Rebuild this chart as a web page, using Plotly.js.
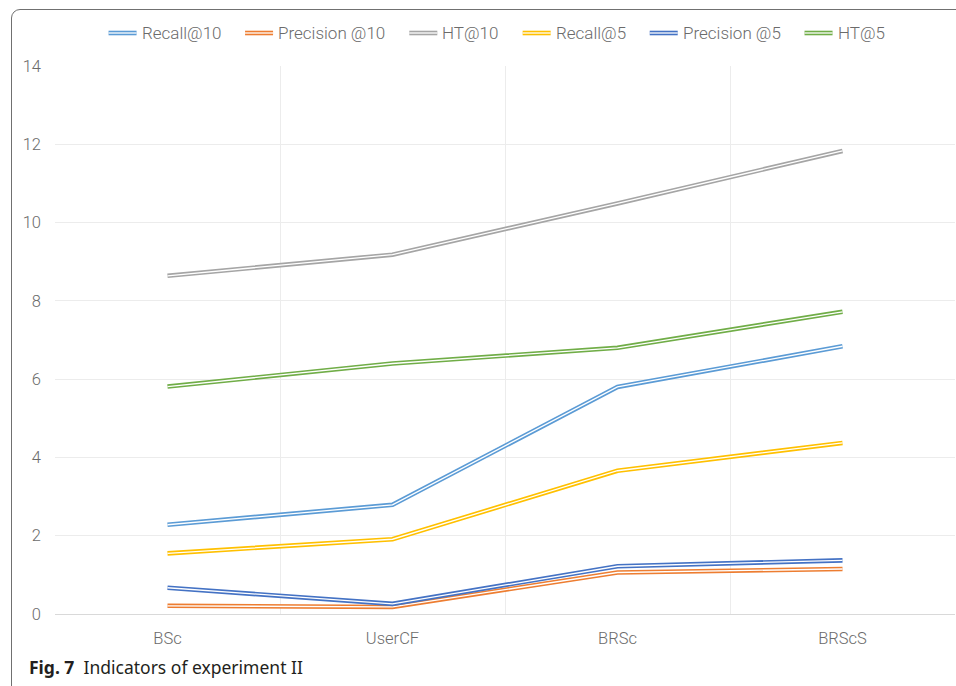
<!DOCTYPE html>
<html>
<head>
<meta charset="utf-8">
<script src="https://cdn.plot.ly/plotly-3.0.1.min.js"></script>
<style>
  html, body { margin: 0; padding: 0; background: #ffffff; overflow: hidden; }
  #wrap { position: relative; width: 956px; height: 686px; }
  #chart { position: absolute; left: 0; top: 0; width: 956px; height: 686px; }
  /* rounded figure frame, open towards the right and bottom */
  #frame {
    position: absolute; left: 11px; top: 9px; width: 980px; height: 720px;
    border: 1.5px solid #707070; border-radius: 9px; pointer-events: none;
  }
</style>
</head>
<body>
<div id="wrap">
  <div id="chart"></div>
  <div id="frame"></div>
</div>
<script>
// Methods compared on the x axis
const methods = ["BSc", "UserCF", "BRSc", "BRScS"];

// Indicator values per method
const recall10    = [2.28, 2.79, 5.80, 6.84];
const precision10 = [0.21, 0.18, 1.06, 1.15];
const ht10        = [8.64, 9.18, 10.49, 11.83];
const recall5     = [1.55, 1.91, 3.66, 4.37];
const precision5  = [0.67, 0.26, 1.22, 1.37];
const ht5         = [5.81, 6.40, 6.80, 7.72];

const yTicks = [0, 2, 4, 6, 8, 10, 12, 14];

const series = [
  { name: "Recall@10",     values: recall10,    color: "#5B9BD5" },
  { name: "Precision @10", values: precision10, color: "#ED7D31" },
  { name: "HT@10",         values: ht10,        color: "#A5A5A5" },
  { name: "Recall@5",      values: recall5,     color: "#FFC000" },
  { name: "Precision @5",  values: precision5,  color: "#4472C4" },
  { name: "HT@5",          values: ht5,         color: "#70AD47" }
];

// Plot-area geometry in pixels (used to place the legend in paper units)
const W = 956, H = 686;
const M = { l: 55, r: 1, t: 66, b: 72 };
const plotW = W - M.l - M.r, plotH = H - M.t - M.b;
const pxToPaperX = px => (px - M.l) / plotW;
const pxToPaperY = py => (H - M.b - py) / plotH;

const FONT_FAMILY = "Roboto, 'Liberation Sans', sans-serif";
const FONT_WEIGHT = 300;
const tickFont = { family: FONT_FAMILY, size: 16.5, weight: FONT_WEIGHT, color: "#6b6b6b" };
const legendFont = { family: FONT_FAMILY, size: 17, weight: FONT_WEIGHT, color: "#6b6b6b" };

const DOUBLE_OUTER = 4.6, DOUBLE_INNER = 1.3;

// Each series is drawn as a double line: a wide coloured stroke with a thin white core
const traces = [];
series.forEach(s => {
  traces.push({
    type: "scatter", mode: "lines", name: s.name,
    x: methods, y: s.values, showlegend: false,
    line: { color: s.color, width: DOUBLE_OUTER },
    hoverinfo: "x+y+name"
  });
  traces.push({
    type: "scatter", mode: "lines", name: s.name,
    x: methods, y: s.values, showlegend: false,
    line: { color: "#ffffff", width: DOUBLE_INNER },
    hoverinfo: "skip"
  });
});

// Legend row along the top, built so the keys show the same double stroke
const canvas = document.createElement("canvas");
const ctx = canvas.getContext("2d");
ctx.font = FONT_WEIGHT + " " + legendFont.size + "px Roboto";
const KEY_LEN = 28, KEY_GAP = 4, ITEM_GAP = 25, LEGEND_CENTER = 496, LEGEND_Y = 33;
const widths = series.map(s => ctx.measureText(s.name).width);
const total = widths.reduce((a, w) => a + KEY_LEN + KEY_GAP + w, 0) + ITEM_GAP * (series.length - 1);
let cursor = LEGEND_CENTER - total / 2;
const shapes = [], annotations = [];
series.forEach((s, i) => {
  const x0 = pxToPaperX(cursor), x1 = pxToPaperX(cursor + KEY_LEN), y = pxToPaperY(LEGEND_Y);
  [[s.color, DOUBLE_OUTER], ["#ffffff", DOUBLE_INNER]].forEach(([c, w]) => {
    shapes.push({ type: "line", xref: "paper", yref: "paper", x0, x1, y0: y, y1: y,
                  line: { color: c, width: w } });
  });
  annotations.push({
    xref: "paper", yref: "paper", x: pxToPaperX(cursor + KEY_LEN + KEY_GAP - 1), y,
    xanchor: "left", yanchor: "middle", showarrow: false, text: s.name, font: legendFont
  });
  cursor += KEY_LEN + KEY_GAP + widths[i] + ITEM_GAP;
});

// Figure caption
annotations.push({
  xref: "paper", yref: "paper", x: pxToPaperX(27), y: pxToPaperY(667),
  xanchor: "left", yanchor: "middle", showarrow: false,
  text: "<b>Fig. 7</b>  Indicators of experiment II",
  font: { family: "'Noto Sans', 'Open Sans', sans-serif", size: 17.5, color: "#231f20" }
});

const layout = {
  width: W, height: H,
  margin: M,
  paper_bgcolor: "rgba(0,0,0,0)",
  plot_bgcolor: "#ffffff",
  showlegend: false,
  xaxis: {
    type: "category", range: [-0.5, 3.5],
    tickson: "boundaries", ticks: "", showgrid: true,
    gridcolor: "#ececec", gridwidth: 1,
    showline: true, linecolor: "#d9d9d9", linewidth: 1.3,
    tickfont: tickFont, ticklabelstandoff: 9, zeroline: false, fixedrange: true
  },
  yaxis: {
    range: [0, 14], tickvals: yTicks, ticktext: yTicks.map(String),
    showgrid: true, gridcolor: "#ececec", gridwidth: 1,
    zeroline: false, showline: false, ticks: "",
    tickfont: tickFont, ticklabelstandoff: 13, fixedrange: true
  },
  shapes,
  annotations
};

Plotly.newPlot("chart", traces, layout, { displayModeBar: false, staticPlot: true });
</script>
</body>
</html>
